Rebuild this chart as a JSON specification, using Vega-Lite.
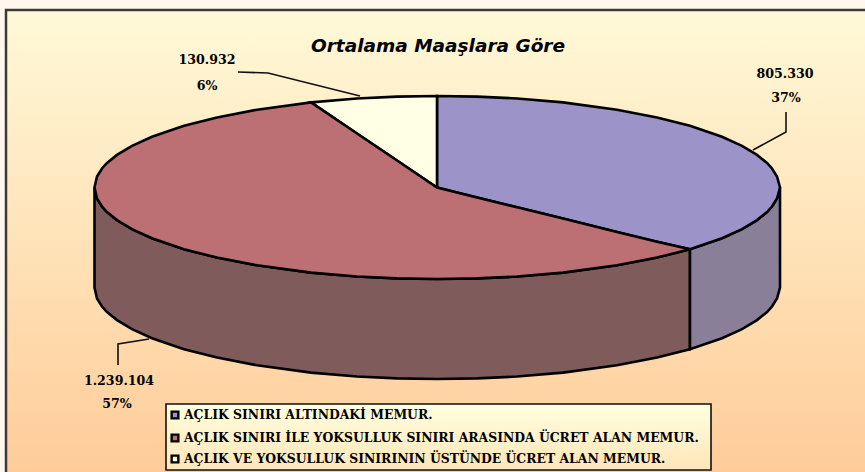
{"$schema":"https://vega.github.io/schema/vega-lite/v6.json","width":865,"height":472,"autosize":{"type":"none"},"padding":0,"background":"#FFF7EE","config":{"view":{"stroke":null}},
"datasets":{
"frame":[{"x":6,"x2":865,"y":10,"y2":472}],
"edge":[{"o":1,"x":6,"y":472},{"o":2,"x":6,"y":10},{"o":3,"x":865,"y":10}],
"box":[{"x":166,"x2":711,"y":404,"y2":470}],
"faces":[
{"part":"redSide","x":94.5,"y":187.5,"y2":287.5},{"part":"redSide","x":97,"y":198.5,"y2":298.5},{"part":"redSide","x":102,"y":206.5,"y2":306.5},{"part":"redSide","x":107,"y":212,"y2":312},{"part":"redSide","x":117,"y":220.1,"y2":320.1},{"part":"redSide","x":132,"y":229.1,"y2":329.1},{"part":"redSide","x":152,"y":238.2,"y2":338.2},{"part":"redSide","x":184,"y":249.2,"y2":349.2},{"part":"redSide","x":217,"y":257.6,"y2":357.6},{"part":"redSide","x":257,"y":265.3,"y2":365.3},{"part":"redSide","x":311,"y":272.6,"y2":372.6},{"part":"redSide","x":357,"y":276.5,"y2":376.5},{"part":"redSide","x":397,"y":278.4,"y2":378.4},{"part":"redSide","x":437,"y":279,"y2":379},{"part":"redSide","x":477,"y":278.4,"y2":378.4},{"part":"redSide","x":517,"y":276.5,"y2":376.5},{"part":"redSide","x":563,"y":272.6,"y2":372.6},{"part":"redSide","x":617,"y":265.3,"y2":365.3},{"part":"redSide","x":657,"y":257.6,"y2":357.6},{"part":"redSide","x":690,"y":249.2,"y2":349.2},
{"part":"blueSide","x":690,"y":249.2,"y2":349.2},{"part":"blueSide","x":722,"y":238.2,"y2":338.2},{"part":"blueSide","x":742,"y":229.1,"y2":329.1},{"part":"blueSide","x":757,"y":220.1,"y2":320.1},{"part":"blueSide","x":767,"y":212,"y2":312},{"part":"blueSide","x":772,"y":206.5,"y2":306.5},{"part":"blueSide","x":777,"y":198.5,"y2":298.5},{"part":"blueSide","x":780,"y":187.5,"y2":287.5},
{"part":"blue","x":437,"y":96,"y2":187.5},{"part":"blue","x":477,"y":96.6,"y2":197.4},{"part":"blue","x":517,"y":98.5,"y2":207.3},{"part":"blue","x":563,"y":102.4,"y2":218.6},{"part":"blue","x":617,"y":109.7,"y2":232},{"part":"blue","x":657,"y":117.4,"y2":241.8},{"part":"blue","x":690,"y":125.8,"y2":249.2},{"part":"blue","x":722,"y":136.8,"y2":238.2},{"part":"blue","x":742,"y":145.9,"y2":229.1},{"part":"blue","x":757,"y":154.9,"y2":220.1},{"part":"blue","x":767,"y":163,"y2":212},{"part":"blue","x":772,"y":168.5,"y2":206.5},{"part":"blue","x":777,"y":176.5,"y2":198.5},{"part":"blue","x":780,"y":187.5,"y2":187.5},
{"part":"white","x":311,"y":102.4,"y2":102.4},{"part":"white","x":357,"y":98.5,"y2":133.5},{"part":"white","x":397,"y":96.6,"y2":160.5},{"part":"white","x":437,"y":96,"y2":187.5},
{"part":"red","x":94.5,"y":187.5,"y2":187.5},{"part":"red","x":97,"y":176.5,"y2":198.5},{"part":"red","x":102,"y":168.5,"y2":206.5},{"part":"red","x":107,"y":163,"y2":212},{"part":"red","x":117,"y":154.9,"y2":220.1},{"part":"red","x":132,"y":145.9,"y2":229.1},{"part":"red","x":152,"y":136.8,"y2":238.2},{"part":"red","x":184,"y":125.8,"y2":249.2},{"part":"red","x":217,"y":117.4,"y2":257.6},{"part":"red","x":257,"y":109.7,"y2":265.3},{"part":"red","x":311,"y":102.4,"y2":272.6},{"part":"red","x":357,"y":133.5,"y2":276.5},{"part":"red","x":397,"y":160.5,"y2":278.4},{"part":"red","x":437,"y":187.5,"y2":279},{"part":"red","x":477,"y":197.4,"y2":278.4},{"part":"red","x":517,"y":207.3,"y2":276.5},{"part":"red","x":563,"y":218.6,"y2":272.6},{"part":"red","x":617,"y":232,"y2":265.3},{"part":"red","x":657,"y":241.8,"y2":257.6},{"part":"red","x":690,"y":249.2,"y2":249.2}
],
"leaders":[
{"id":"a","o":1,"x":786,"y":112},{"id":"a","o":2,"x":786,"y":132},{"id":"a","o":3,"x":753,"y":150},
{"id":"b","o":1,"x":238,"y":72},{"id":"b","o":2,"x":268,"y":73},{"id":"b","o":3,"x":360,"y":96},
{"id":"c","o":1,"x":118,"y":365},{"id":"c","o":2,"x":118,"y":344},{"id":"c","o":3,"x":149,"y":339}
],
"labels":[
{"t":"805.330","x":785,"y":74},{"t":"37%","x":786,"y":98},
{"t":"130.932","x":207,"y":60},{"t":"6%","x":207,"y":86},
{"t":"1.239.104","x":119,"y":381},{"t":"57%","x":117,"y":404}
],
"legend":[
{"cat":"blue","t":"AÇLIK SINIRI ALTINDAKİ MEMUR.","sx":175,"tx":184,"y":415},
{"cat":"red","t":"AÇLIK SINIRI İLE YOKSULLUK SINIRI ARASINDA ÜCRET ALAN  MEMUR.","sx":175,"tx":184,"y":438},
{"cat":"white","t":"AÇLIK VE YOKSULLUK SINIRININ ÜSTÜNDE ÜCRET ALAN MEMUR.","sx":175,"tx":184,"y":459}
],
"title":[{"t":"Ortalama Maaşlara Göre","x":438,"y":46}]
},
"encoding":{"x":{"field":"x","type":"quantitative","scale":{"domain":[0,865],"nice":false,"zero":false},"axis":null},"y":{"field":"y","type":"quantitative","scale":{"domain":[472,0],"nice":false,"zero":false},"axis":null}},
"layer":[
{"data":{"name":"frame"},"mark":{"type":"rect","color":{"gradient":"linear","x1":0,"y1":0,"x2":0,"y2":1,"stops":[{"offset":0,"color":"#FFF9D8"},{"offset":1,"color":"#FFCC99"}]}},"encoding":{"x2":{"field":"x2"},"y2":{"field":"y2"}}},
{"data":{"name":"edge"},"mark":{"type":"line","color":"#3a3a3a","strokeWidth":2.5},"encoding":{"order":{"field":"o"}}},
{"data":{"name":"leaders"},"mark":{"type":"line","color":"#111","strokeWidth":1.6},"encoding":{"detail":{"field":"id"},"order":{"field":"o"}}},
{"data":{"name":"faces"},"mark":{"type":"area","orient":"vertical","stroke":"#000","strokeWidth":2.6,"opacity":1},"encoding":{"y":{"field":"y","type":"quantitative","stack":null},"y2":{"field":"y2"},"color":{"field":"part","type":"nominal","legend":null,"scale":{"domain":["redSide","blueSide","blue","white","red"],"range":["#7F5B5B","#8A7F99","#9C93C9","#FFFFE6","#BC7074"]}}}},
{"data":{"name":"box"},"mark":{"type":"rect","stroke":"#111","strokeWidth":1.6,"color":{"gradient":"linear","x1":0,"y1":0,"x2":0,"y2":1,"stops":[{"offset":0,"color":"#FFFFE0"},{"offset":1,"color":"#FFE6B8"}]}},"encoding":{"x2":{"field":"x2"},"y2":{"field":"y2"}}},
{"data":{"name":"legend"},"mark":{"type":"point","shape":"square","filled":true,"size":45,"stroke":"#000","strokeWidth":2.4,"opacity":1},"encoding":{"x":{"field":"sx","type":"quantitative"},"fill":{"field":"cat","type":"nominal","legend":null,"scale":{"domain":["blue","red","white"],"range":["#9C93C9","#BC7074","#FFFFE6"]}}}},
{"data":{"name":"legend"},"mark":{"type":"text","align":"left","baseline":"middle","font":"DejaVu Serif","fontWeight":"bold","fontSize":12.4,"color":"#000"},"encoding":{"x":{"field":"tx","type":"quantitative"},"text":{"field":"t"}}},
{"data":{"name":"labels"},"mark":{"type":"text","align":"center","baseline":"middle","font":"DejaVu Serif","fontWeight":"bold","fontSize":12.6,"color":"#000"},"encoding":{"text":{"field":"t"}}},
{"data":{"name":"title"},"mark":{"type":"text","align":"center","baseline":"middle","font":"DejaVu Sans","fontWeight":"bold","fontStyle":"italic","fontSize":18.5,"color":"#000"},"encoding":{"text":{"field":"t"}}}
]}
